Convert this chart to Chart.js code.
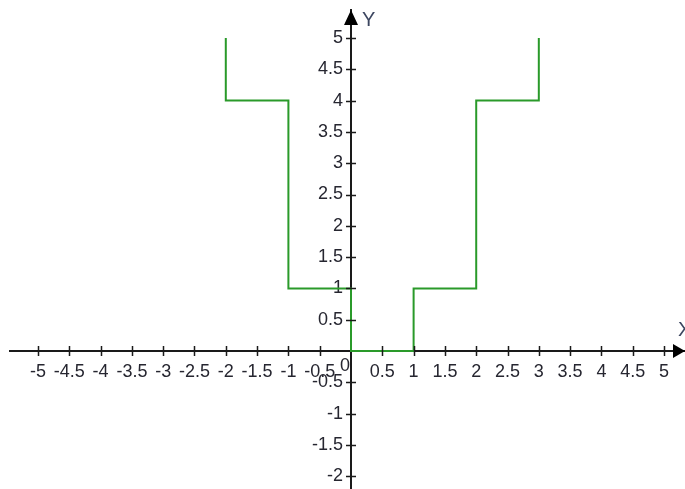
<!DOCTYPE html>
<html>
<head>
<meta charset="utf-8">
<script src="https://cdn.jsdelivr.net/npm/chart.js@4/dist/chart.umd.min.js"></script>
<style>
  html, body { margin: 0; padding: 0; background: #fff; }
  #wrap { width: 685px; height: 489px; }
</style>
</head>
<body>
<div id="wrap"><canvas id="c" width="685" height="489"></canvas></div>
<script>
// Step function points (x, y)
const stepX = [-2, -2, -1, -1, 0, 0, 1, 1, 2, 2, 3, 3];
const stepY = [5, 4, 4, 1, 1, 0, 0, 1, 1, 4, 4, 5];

// Tick values of both axes
const xTickValues = [-5, -4.5, -4, -3.5, -3, -2.5, -2, -1.5, -1, -0.5, 0.5, 1, 1.5, 2, 2.5, 3, 3.5, 4, 4.5, 5];
const yTickValues = [-2, -1.5, -1, -0.5, 0.5, 1, 1.5, 2, 2.5, 3, 3.5, 4, 4.5, 5];

const axisTitleX = 'X';
const axisTitleY = 'Y';
const originLabel = '0';

const FONT = { family: '"Liberation Sans", Arial, sans-serif', size: 18 };
const TEXT_COLOR = '#262630';
const AXIS_COLOR = '#1a1a1a';

const points = stepX.map((x, i) => ({ x: x, y: stepY[i] }));

const axisDecor = {
  id: 'axisDecor',
  beforeDraw(chart) {
    // put the y tick labels a little to the left of the axis
    const items = chart.scales.y.getLabelItems();
    if (!items._shifted) {
      items.forEach(it => { it.options.translation[0] -= 8; });
      items._shifted = true;
    }
  },
  afterDraw(chart) {
    const ctx = chart.ctx;
    const xs = chart.scales.x, ys = chart.scales.y;
    const ox = xs.getPixelForValue(0);
    const oy = ys.getPixelForValue(0);
    const area = chart.chartArea;
    ctx.save();
    ctx.strokeStyle = AXIS_COLOR;
    ctx.lineWidth = 1.5;
    ctx.beginPath();
    xTickValues.forEach(v => {
      const px = Math.round(xs.getPixelForValue(v)) + 0.5;
      ctx.moveTo(px, oy - 5);
      ctx.lineTo(px, oy + 5);
    });
    yTickValues.forEach(v => {
      const py = Math.round(ys.getPixelForValue(v)) + 0.5;
      ctx.moveTo(ox - 5, py);
      ctx.lineTo(ox + 5, py);
    });
    ctx.stroke();
    // arrows
    ctx.fillStyle = '#000';
    ctx.beginPath();
    ctx.moveTo(area.right, oy);
    ctx.lineTo(area.right - 12, oy - 7);
    ctx.lineTo(area.right - 12, oy + 7);
    ctx.closePath();
    ctx.fill();
    ctx.beginPath();
    ctx.moveTo(ox, area.top);
    ctx.lineTo(ox - 7, area.top + 15);
    ctx.lineTo(ox + 7, area.top + 15);
    ctx.closePath();
    ctx.fill();
    // titles
    ctx.fillStyle = '#3c4660';
    ctx.font = '20px "Liberation Sans", Arial, sans-serif';
    ctx.textBaseline = 'middle';
    ctx.textAlign = 'left';
    ctx.fillText(axisTitleY, ox + 11, area.top + 10);
    ctx.fillText(axisTitleX, area.right - 7, oy - 21);
    // origin label
    ctx.fillStyle = TEXT_COLOR;
    ctx.font = '18px "Liberation Sans", Arial, sans-serif';
    ctx.textAlign = 'center';
    ctx.fillText(originLabel, ox - 6, oy + 15);
    ctx.restore();
  }
};

const noEdgePadding = s => { s.paddingTop = 0; s.paddingBottom = 0; s.paddingLeft = 0; s.paddingRight = 0; };

new Chart(document.getElementById('c'), {
  type: 'scatter',
  data: {
    datasets: [{
      data: points,
      showLine: true,
      borderColor: '#2a9a2a',
      borderWidth: 2,
      pointRadius: 0,
      tension: 0,
      fill: false
    }]
  },
  options: {
    responsive: false,
    animation: false,
    events: [],
    layout: { padding: { left: 10, top: 10, right: 0, bottom: 0 } },
    plugins: { legend: { display: false }, tooltip: { enabled: false } },
    scales: {
      x: {
        type: 'linear',
        min: -5.447,
        max: 5.335,
        position: { y: 0 },
        afterBuildTicks: s => { s.ticks = xTickValues.map(v => ({ value: v })); },
        afterFit: noEdgePadding,
        grid: { drawOnChartArea: false, drawTicks: true, tickLength: 5, color: 'rgba(0,0,0,0)' },
        border: { display: true, color: AXIS_COLOR, width: 2 },
        ticks: {
          autoSkip: false, maxRotation: 0, minRotation: 0,
          padding: 5, color: TEXT_COLOR, font: FONT,
          callback: v => String(v)
        }
      },
      y: {
        type: 'linear',
        min: -2.204,
        max: 5.447,
        position: { x: 0 },
        afterBuildTicks: s => { s.ticks = yTickValues.map(v => ({ value: v })); },
        afterFit: noEdgePadding,
        grid: { drawOnChartArea: false, drawTicks: true, tickLength: 5, color: 'rgba(0,0,0,0)' },
        border: { display: true, color: AXIS_COLOR, width: 2 },
        ticks: {
          autoSkip: false, padding: 3, color: TEXT_COLOR, font: FONT,
          callback: v => String(v)
        }
      }
    }
  },
  plugins: [axisDecor]
});
</script>
</body>
</html>
